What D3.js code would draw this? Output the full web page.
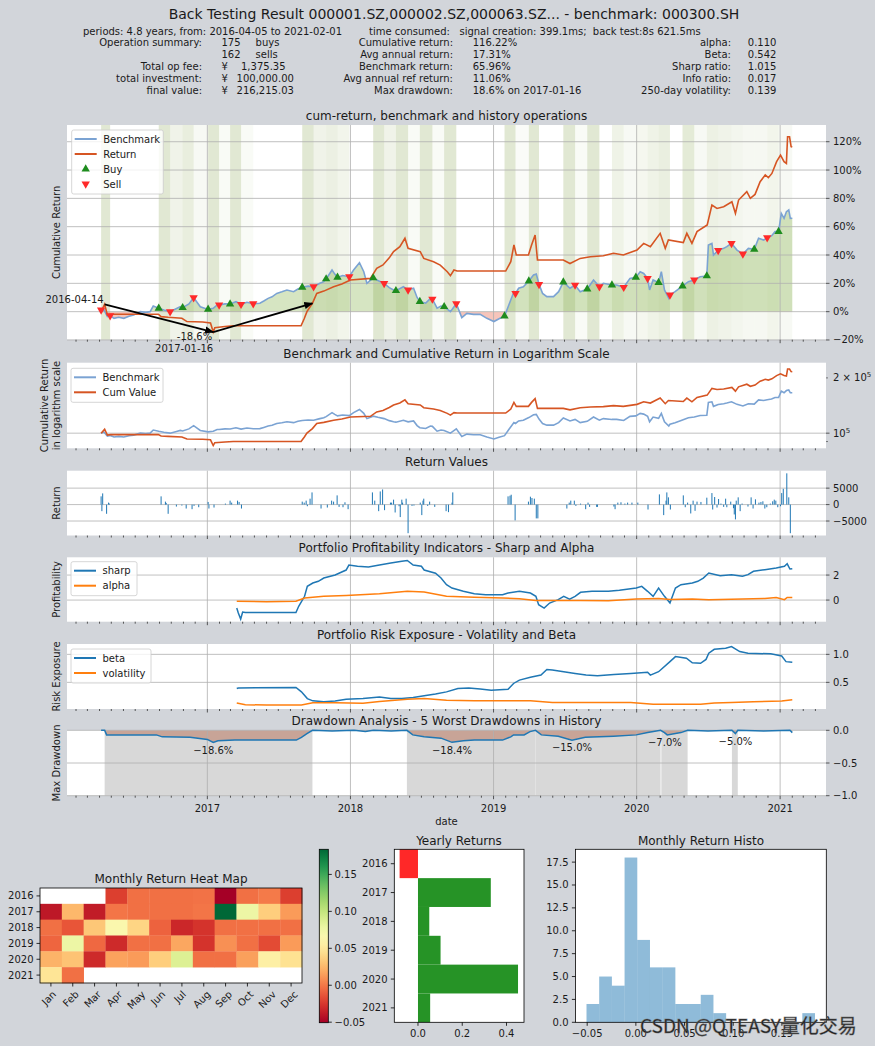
<!DOCTYPE html>
<html>
<head>
<meta charset="utf-8">
<title>Back Testing Result</title>
<script src="https://d3js.org/d3.v7.min.js"></script>
<style>
  body { margin: 0; background: #d2d5da; }
  svg { display: block; }
  text { font-family: "DejaVu Sans", sans-serif; fill: #1a1a1a; }
</style>
</head>
<body>
<div id="chart"></div>
<script>
// ---------- values ----------

// cumulative return of the benchmark and of the strategy, in %
const benchmark = [
  ['2016-04-05', 0.0], ['2016-04-12', 1.5], ['2016-04-21', -3.5], ['2016-04-28', -2.8], ['2016-05-08', -4.7],
  ['2016-05-20', -4.0], ['2016-06-02', -4.7], ['2016-06-15', -3.2], ['2016-06-27', -2.4], ['2016-07-14', 0.0],
  ['2016-07-28', -0.5], ['2016-08-08', 0.0], ['2016-08-16', 4.0], ['2016-08-30', 2.4], ['2016-09-12', 1.2],
  ['2016-09-28', 0.0], ['2016-10-12', 1.9], ['2016-10-24', 3.5], ['2016-10-30', 2.8], ['2016-11-15', 5.5],
  ['2016-11-27', 9.9], ['2016-12-14', 3.5], ['2017-01-03', 1.6], ['2017-01-16', 2.4], ['2017-01-26', 4.7],
  ['2017-01-31', 4.7], ['2017-02-15', 5.5], ['2017-02-28', 5.4], ['2017-03-15', 7.0], ['2017-03-28', 5.2],
  ['2017-04-12', 6.6], ['2017-04-28', 5.6], ['2017-05-15', 5.9], ['2017-05-25', 7.5], ['2017-06-05', 9.4],
  ['2017-06-15', 10.5], ['2017-06-27', 12.9], ['2017-07-10', 14.0], ['2017-07-23', 15.3], ['2017-08-09', 14.1],
  ['2017-08-20', 16.0], ['2017-08-31', 17.2], ['2017-09-15', 18.0], ['2017-09-29', 17.6], ['2017-10-15', 20.0],
  ['2017-10-25', 21.2], ['2017-10-31', 23.1], ['2017-11-15', 29.4], ['2017-11-22', 26.5], ['2017-11-29', 24.2],
  ['2017-12-12', 25.5], ['2017-12-29', 24.7], ['2018-01-09', 29.4], ['2018-01-24', 34.6], ['2018-02-04', 28.2],
  ['2018-02-12', 20.0], ['2018-02-28', 23.8], ['2018-03-12', 22.0], ['2018-03-28', 20.0], ['2018-04-10', 17.0],
  ['2018-04-21', 15.3], ['2018-04-27', 14.8], ['2018-05-16', 17.6], ['2018-05-28', 15.3], ['2018-06-11', 16.5],
  ['2018-06-20', 10.0], ['2018-06-27', 7.1], ['2018-07-12', 6.0], ['2018-07-24', 9.4], ['2018-07-29', 8.9],
  ['2018-08-10', 2.5], ['2018-08-20', 4.0], ['2018-08-28', 3.5], ['2018-09-13', 0.0], ['2018-09-28', 5.6],
  ['2018-10-12', -4.2], ['2018-10-25', -1.2], ['2018-11-11', -1.9], ['2018-11-28', -1.9], ['2018-12-15', -4.7],
  ['2019-01-02', -7.0], ['2019-01-15', -5.0], ['2019-01-29', -3.1], ['2019-02-09', 4.7], ['2019-02-22', 14.1],
  ['2019-02-26', 12.9], ['2019-03-06', 16.5], ['2019-03-18', 17.6], ['2019-04-01', 21.6], ['2019-04-13', 25.9],
  ['2019-04-20', 26.5], ['2019-04-27', 19.3], ['2019-05-06', 12.9], ['2019-05-17', 10.6], ['2019-06-03', 10.6],
  ['2019-06-16', 14.1], ['2019-06-28', 20.9], ['2019-07-15', 16.5], ['2019-07-28', 18.8], ['2019-08-10', 14.1],
  ['2019-08-28', 16.0], ['2019-09-13', 22.4], ['2019-09-28', 17.6], ['2019-10-08', 20.0], ['2019-10-30', 18.8],
  ['2019-11-11', 18.8], ['2019-11-29', 17.2], ['2019-12-15', 23.5], ['2019-12-30', 24.2], ['2020-01-10', 28.2],
  ['2020-01-19', 27.0], ['2020-01-29', 23.5], ['2020-02-03', 15.3], ['2020-02-12', 22.4], ['2020-02-26', 20.5],
  ['2020-03-04', 28.2], ['2020-03-12', 15.3], ['2020-03-23', 9.4], ['2020-03-26', 11.8], ['2020-04-08', 14.1],
  ['2020-04-27', 18.1], ['2020-05-12', 21.2], ['2020-05-27', 22.4], ['2020-06-11', 24.7], ['2020-06-28', 25.2],
  ['2020-07-02', 47.1], ['2020-07-11', 48.2], ['2020-07-15', 40.0], ['2020-07-27', 43.3], ['2020-08-10', 44.7],
  ['2020-08-18', 45.9], ['2020-08-30', 48.2], ['2020-09-13', 43.5], ['2020-09-28', 40.7], ['2020-10-12', 44.7],
  ['2020-10-27', 44.0], ['2020-11-07', 51.8], ['2020-11-20', 50.6], ['2020-11-29', 52.2], ['2020-12-10', 53.5],
  ['2020-12-19', 56.5], ['2020-12-28', 56.5], ['2021-01-04', 69.4], ['2021-01-11', 65.9], ['2021-01-17', 70.6],
  ['2021-01-23', 71.8], ['2021-01-27', 65.9], ['2021-02-01', 66.0]
];
const cumReturn = [
  ['2016-04-05', 0.0], ['2016-04-14', 5.2], ['2016-04-21', -2.4], ['2016-04-29', -1.8], ['2016-06-15', -1.8],
  ['2016-08-29', -1.8], ['2016-09-05', -3.5], ['2016-09-23', -4.0], ['2016-10-28', -4.7], ['2016-11-10', -7.0],
  ['2016-12-20', -7.3], ['2017-01-09', -8.0], ['2017-01-16', -14.4], ['2017-01-20', -11.3], ['2017-02-15', -10.5],
  ['2017-03-08', -10.0], ['2017-08-28', -10.0], ['2017-09-05', -5.0], ['2017-09-12', 0.0], ['2017-09-26', 5.9],
  ['2017-10-07', 12.9], ['2017-10-25', 14.5], ['2017-11-19', 17.6], ['2017-12-10', 19.5], ['2018-01-01', 22.4],
  ['2018-02-21', 23.5], ['2018-03-09', 30.6], ['2018-03-25', 33.0], ['2018-04-10', 38.0], ['2018-04-21', 42.4],
  ['2018-05-07', 45.9], ['2018-05-20', 51.8], ['2018-05-28', 44.7], ['2018-06-28', 42.4], ['2018-07-07', 37.6],
  ['2018-08-01', 35.3], ['2018-08-18', 32.9], ['2018-09-05', 28.2], ['2018-09-13', 25.4], ['2018-09-22', 29.4],
  ['2018-09-30', 28.7], ['2019-02-01', 28.7], ['2019-02-14', 35.3], ['2019-02-22', 47.1], ['2019-02-28', 40.0],
  ['2019-03-31', 40.0], ['2019-04-08', 47.1], ['2019-04-17', 54.1], ['2019-04-23', 36.5], ['2019-06-28', 36.5],
  ['2019-07-15', 34.0], ['2019-08-10', 37.6], ['2019-09-05', 38.8], ['2019-10-08', 39.5], ['2019-11-03', 41.2],
  ['2019-11-28', 40.0], ['2020-01-02', 43.5], ['2020-01-19', 48.2], ['2020-02-05', 45.9], ['2020-03-01', 55.3],
  ['2020-03-14', 44.7], ['2020-03-22', 50.6], ['2020-04-29', 48.8], ['2020-05-08', 55.3], ['2020-05-21', 48.2],
  ['2020-06-03', 56.5], ['2020-06-29', 61.2], ['2020-07-11', 75.3], ['2020-07-24', 72.9], ['2020-08-10', 74.1],
  ['2020-08-31', 77.6], ['2020-09-09', 69.4], ['2020-09-17', 78.8], ['2020-10-08', 84.7], ['2020-10-17', 80.0],
  ['2020-10-29', 82.8], ['2020-11-11', 91.8], ['2020-11-24', 96.5], ['2020-12-02', 94.6], ['2020-12-11', 97.6],
  ['2020-12-23', 105.9], ['2021-01-02', 110.6], ['2021-01-11', 105.9], ['2021-01-17', 104.7], ['2021-01-20', 123.5],
  ['2021-01-25', 123.5], ['2021-01-29', 116.5], ['2021-02-01', 116.2]
];

// trade markers, placed on the benchmark curve (%)
const buys = [
  ['2016-08-30', 2.4], ['2016-10-30', 2.8], ['2017-01-03', 1.6], ['2017-02-28', 5.4], ['2017-08-31', 17.2],
  ['2017-10-31', 23.1], ['2017-11-29', 24.2], ['2018-02-28', 23.8], ['2018-04-27', 14.8], ['2018-06-27', 7.1],
  ['2018-08-28', 3.5], ['2019-01-29', -3.1], ['2019-04-01', 21.6], ['2019-06-28', 20.9], ['2019-08-28', 16.0],
  ['2019-10-30', 18.8], ['2019-12-30', 24.2], ['2020-02-26', 20.5], ['2020-04-27', 18.1], ['2020-06-28', 25.2],
  ['2020-10-27', 44.0], ['2020-12-28', 56.5]
];
const sells = [
  ['2016-04-05', 1.2], ['2016-04-28', -2.8], ['2016-09-28', 0.0], ['2016-11-27', 9.9], ['2017-01-31', 4.7],
  ['2017-03-28', 5.2], ['2017-04-28', 5.6], ['2017-09-29', 17.6], ['2017-12-29', 24.7], ['2018-03-28', 20.0],
  ['2018-05-28', 15.3], ['2018-07-29', 8.9], ['2018-09-28', 5.6], ['2019-02-26', 12.9], ['2019-04-27', 19.3],
  ['2019-07-28', 18.8], ['2019-09-28', 17.6], ['2019-11-29', 17.2], ['2020-01-29', 23.5], ['2020-03-26', 11.8],
  ['2020-05-27', 22.4], ['2020-07-27', 43.3], ['2020-08-30', 48.2], ['2020-09-28', 40.7], ['2020-11-29', 52.2]
];

// holding periods: start, end, shade strength
const holdBands = [
  ['2016-04-05', '2016-04-28', 0.20], ['2016-08-30', '2016-09-28', 0.20], ['2016-09-28', '2016-10-30', 0.10],
  ['2016-10-30', '2016-11-27', 0.15], ['2016-11-27', '2017-01-03', 0.05], ['2017-01-03', '2017-01-31', 0.20],
  ['2017-01-31', '2017-02-28', 0.04], ['2017-02-28', '2017-03-28', 0.20], ['2017-03-28', '2017-04-28', 0.04],
  ['2017-08-31', '2017-09-29', 0.20], ['2017-09-29', '2017-10-31', 0.10], ['2017-10-31', '2017-11-29', 0.13],
  ['2017-11-29', '2017-12-29', 0.09], ['2018-02-28', '2018-03-28', 0.20], ['2018-03-28', '2018-04-27', 0.10],
  ['2018-04-27', '2018-05-28', 0.20], ['2018-05-28', '2018-06-27', 0.04], ['2018-06-27', '2018-07-29', 0.20],
  ['2018-07-29', '2018-08-28', 0.04], ['2018-08-28', '2018-09-28', 0.20], ['2019-01-29', '2019-02-26', 0.20],
  ['2019-02-26', '2019-04-01', 0.03], ['2019-04-01', '2019-04-27', 0.20], ['2019-06-28', '2019-07-28', 0.20],
  ['2019-07-28', '2019-08-28', 0.04], ['2019-08-28', '2019-09-28', 0.20], ['2019-10-30', '2019-11-29', 0.11],
  ['2019-11-29', '2019-12-30', 0.05], ['2019-12-30', '2020-01-29', 0.07], ['2020-01-29', '2020-02-26', 0.11],
  ['2020-02-26', '2020-03-26', 0.14], ['2020-04-27', '2020-05-27', 0.18], ['2020-05-27', '2020-06-28', 0.05],
  ['2020-06-28', '2020-07-27', 0.12], ['2020-07-27', '2020-08-30', 0.10], ['2020-08-30', '2020-09-28', 0.08],
  ['2020-09-28', '2020-10-27', 0.06], ['2020-10-27', '2020-11-29', 0.06], ['2020-11-29', '2020-12-28', 0.09],
  ['2020-12-28', '2021-02-01', 0.05]
];

// max drawdown: peak, valley, recovery (% of cumulative return)
const maxDrawdownPts = [['2016-04-14', 5.2], ['2017-01-16', -14.4], ['2017-09-26', 5.9]];

// daily change of portfolio value (yuan)
const dailyGain = [
  ['2016-04-05', 2500], ['2016-04-07', -2000], ['2016-04-09', 3400], ['2016-04-19', -2800], ['2016-04-24', 600],
  ['2016-04-26', 300], ['2016-09-05', 2500], ['2016-09-16', 900], ['2016-09-18', 500], ['2016-09-23', -2800],
  ['2016-10-14', -600], ['2016-10-28', -300], ['2016-11-08', -1200], ['2016-11-23', -1400], ['2016-11-28', -400],
  ['2016-12-10', -800], ['2017-01-03', 800], ['2017-01-05', -1200], ['2017-01-18', -900], ['2017-02-16', 300],
  ['2017-02-28', 1200], ['2017-03-04', 600], ['2017-03-19', 1200], ['2017-03-23', 800], ['2017-03-29', -1200],
  ['2017-08-31', 900], ['2017-09-05', 600], ['2017-09-10', 1200], ['2017-09-13', -500], ['2017-09-20', 1800],
  ['2017-09-25', 3700], ['2017-10-18', -1200], ['2017-11-03', -900], ['2017-11-14', 1200], ['2017-11-19', 900],
  ['2017-11-28', 2800], ['2017-12-03', -700], ['2017-12-13', -800], ['2017-12-18', 700], ['2017-12-26', -1400],
  ['2018-02-26', 3700], ['2018-03-04', 1200], ['2018-03-14', -2000], ['2018-03-18', 4000], ['2018-03-24', 4600],
  ['2018-03-29', -1700], ['2018-04-13', 600], ['2018-04-16', 600], ['2018-04-21', 1500], ['2018-04-25', -2400],
  ['2018-05-05', -500], ['2018-05-08', -3800], ['2018-05-12', 1500], ['2018-05-14', 600], ['2018-05-23', 1800],
  ['2018-05-28', -8700], ['2018-06-07', -400], ['2018-06-12', -300], ['2018-06-28', 600], ['2018-07-02', -3200],
  ['2018-07-05', 1200], ['2018-07-07', 1800], ['2018-07-17', -400], ['2018-07-22', 900], ['2018-08-04', -700],
  ['2018-09-02', -2000], ['2018-09-08', -2300], ['2018-09-17', 600], ['2018-09-19', 3700], ['2019-02-07', 2500],
  ['2019-02-12', 2700], ['2019-02-15', 3000], ['2019-02-25', -4800], ['2019-03-31', 900], ['2019-04-05', 2400],
  ['2019-04-09', 2000], ['2019-04-15', 1800], ['2019-04-20', -4200], ['2019-04-24', -4200], ['2019-07-07', -1200],
  ['2019-07-13', 600], ['2019-07-17', 1200], ['2019-07-26', 1200], ['2019-07-30', -400], ['2019-08-11', 300],
  ['2019-08-24', -1400], ['2019-08-30', 600], ['2019-09-03', -700], ['2019-09-21', -700], ['2019-09-23', -700],
  ['2019-11-04', -600], ['2019-11-07', -1400], ['2019-11-14', 600], ['2019-11-22', 700], ['2019-12-02', 300],
  ['2019-12-09', 600], ['2019-12-20', 600], ['2020-01-04', 600], ['2020-01-30', -1500], ['2020-02-28', 3100],
  ['2020-03-10', -3200], ['2020-03-16', 1200], ['2020-03-18', 3700], ['2020-03-22', 2200], ['2020-03-27', -1500],
  ['2020-04-29', 2800], ['2020-05-04', -800], ['2020-05-10', 600], ['2020-05-18', -2700], ['2020-05-24', 1200],
  ['2020-05-29', -1900], ['2020-06-03', 900], ['2020-06-13', 800], ['2020-06-28', 2100], ['2020-07-11', 3500],
  ['2020-07-13', -1500], ['2020-07-18', 2300], ['2020-07-24', -900], ['2020-07-28', 1700], ['2020-08-03', 300],
  ['2020-08-10', -700], ['2020-08-15', 1800], ['2020-08-18', -800], ['2020-08-28', 900], ['2020-09-04', -1100],
  ['2020-09-06', -3000], ['2020-09-09', -4500], ['2020-09-11', 1200], ['2020-09-16', 2200], ['2020-09-21', -2000],
  ['2020-09-26', 300], ['2020-10-11', -600], ['2020-10-19', 2200], ['2020-10-24', -1200], ['2020-10-30', 1600],
  ['2020-11-08', 600], ['2020-11-13', 800], ['2020-11-18', 1000], ['2020-11-23', -1200], ['2020-11-28', -800],
  ['2020-12-07', 300], ['2020-12-13', 1000], ['2020-12-17', 1500], ['2020-12-21', 1200], ['2020-12-26', -800],
  ['2021-01-02', -500], ['2021-01-05', 3500], ['2021-01-09', 4800], ['2021-01-18', 9500], ['2021-01-23', 2200],
  ['2021-01-27', -8700]
];

const sharp = [
  ['2017-03-17', -0.64], ['2017-03-21', -1.04], ['2017-03-27', -1.52], ['2017-04-01', -0.96], ['2017-04-08', -1.0],
  ['2017-08-15', -1.0], ['2017-08-22', -0.5], ['2017-09-06', 0.3], ['2017-09-13', 1.1], ['2017-09-27', 1.36],
  ['2017-10-11', 1.5], ['2017-10-25', 1.76], ['2017-11-23', 2.0], ['2017-12-07', 2.2], ['2017-12-21', 2.4],
  ['2017-12-28', 2.8], ['2018-01-19', 2.7], ['2018-02-16', 2.65], ['2018-03-16', 2.8], ['2018-04-14', 2.96],
  ['2018-05-12', 3.1], ['2018-05-26', 3.17], ['2018-06-10', 2.8], ['2018-07-01', 2.7], ['2018-07-08', 2.4],
  ['2018-08-06', 2.15], ['2018-08-20', 1.76], ['2018-09-03', 1.23], ['2018-09-17', 0.96], ['2018-10-16', 0.7],
  ['2018-11-13', 0.5], ['2018-12-12', 0.43], ['2019-01-24', 0.43], ['2019-02-07', 0.56], ['2019-03-08', 0.7],
  ['2019-04-05', 0.56], ['2019-04-19', 0.3], ['2019-04-26', -0.37], ['2019-05-10', -0.64], ['2019-05-24', -0.24],
  ['2019-06-15', 0.03], ['2019-06-29', 0.3], ['2019-07-14', 0.08], ['2019-07-28', 0.3], ['2019-08-11', 0.62],
  ['2019-09-09', 0.7], ['2019-10-21', 0.7], ['2019-11-18', 0.78], ['2019-12-31', 0.96], ['2020-01-14', 1.1],
  ['2020-01-29', 0.7], ['2020-02-12', 0.3], ['2020-02-26', 0.96], ['2020-03-12', 0.3], ['2020-03-26', -0.24],
  ['2020-04-09', 0.96], ['2020-04-23', 1.23], ['2020-05-22', 1.36], ['2020-06-05', 1.5], ['2020-06-19', 1.76],
  ['2020-07-03', 2.16], ['2020-08-01', 1.95], ['2020-08-30', 2.03], ['2020-09-27', 1.9], ['2020-10-11', 2.03],
  ['2020-10-25', 2.3], ['2020-11-23', 2.43], ['2020-12-22', 2.56], ['2021-01-12', 2.7], ['2021-01-19', 2.9],
  ['2021-01-26', 2.48], ['2021-02-01', 2.5]
];
const alpha = [
  ['2017-03-17', -0.1], ['2017-06-01', -0.13], ['2017-08-15', -0.1], ['2017-09-06', 0.16], ['2017-10-25', 0.3],
  ['2017-12-21', 0.37], ['2018-03-16', 0.5], ['2018-05-26', 0.7], ['2018-07-08', 0.64], ['2018-09-03', 0.3],
  ['2018-11-13', 0.22], ['2019-01-24', 0.16], ['2019-03-08', 0.11], ['2019-04-19', -0.03], ['2019-06-15', -0.03],
  ['2019-08-11', -0.03], ['2019-10-21', -0.05], ['2019-12-31', 0.08], ['2020-02-26', 0.13], ['2020-03-26', 0.05],
  ['2020-05-22', 0.08], ['2020-07-03', 0.03], ['2020-09-27', 0.08], ['2020-11-23', 0.13], ['2020-12-22', 0.21],
  ['2021-01-12', 0.03], ['2021-01-19', 0.21], ['2021-02-01', 0.21]
];
const beta = [
  ['2017-03-17', 0.39], ['2017-03-21', 0.40], ['2017-08-15', 0.41], ['2017-08-29', 0.33], ['2017-09-13', 0.21],
  ['2017-09-27', 0.17], ['2017-10-25', 0.155], ['2017-11-23', 0.165], ['2017-12-21', 0.2], ['2018-02-02', 0.21],
  ['2018-03-16', 0.24], ['2018-04-14', 0.21], ['2018-05-12', 0.21], ['2018-06-10', 0.23], ['2018-07-08', 0.26],
  ['2018-08-06', 0.29], ['2018-09-03', 0.33], ['2018-10-02', 0.39], ['2018-10-30', 0.40], ['2018-11-28', 0.38],
  ['2018-12-26', 0.36], ['2019-02-07', 0.375], ['2019-02-21', 0.48], ['2019-03-08', 0.54], ['2019-04-05', 0.59],
  ['2019-05-02', 0.63], ['2019-05-17', 0.73], ['2019-05-31', 0.72], ['2019-06-29', 0.69], ['2019-07-28', 0.66],
  ['2019-08-25', 0.63], ['2019-09-23', 0.62], ['2019-11-04', 0.64], ['2019-12-17', 0.66], ['2020-01-29', 0.68],
  ['2020-02-05', 0.63], ['2020-02-26', 0.69], ['2020-03-26', 0.87], ['2020-04-09', 0.96], ['2020-05-07', 0.93],
  ['2020-05-22', 0.85], ['2020-06-12', 0.84], ['2020-06-26', 0.91], ['2020-07-03', 1.02], ['2020-07-17', 1.09],
  ['2020-08-15', 1.11], ['2020-08-30', 1.14], ['2020-09-20', 1.05], ['2020-10-11', 1.02], ['2020-12-08', 1.01],
  ['2021-01-05', 0.97], ['2021-01-16', 0.87], ['2021-02-01', 0.86]
];
const volatility = [
  ['2017-03-17', 0.13], ['2017-04-08', 0.10], ['2017-06-01', 0.095], ['2017-08-29', 0.095], ['2017-09-27', 0.137],
  ['2017-11-23', 0.137], ['2018-02-02', 0.125], ['2018-03-16', 0.16], ['2018-05-26', 0.20], ['2018-07-08', 0.21],
  ['2018-09-03', 0.18], ['2018-11-13', 0.17], ['2019-01-24', 0.17], ['2019-04-05', 0.17], ['2019-05-31', 0.14],
  ['2019-09-23', 0.14], ['2019-12-17', 0.14], ['2020-02-12', 0.11], ['2020-04-23', 0.107], ['2020-06-12', 0.11],
  ['2020-07-17', 0.13], ['2020-08-30', 0.14], ['2020-10-25', 0.155], ['2021-01-05', 0.167], ['2021-02-01', 0.19]
];

const drawdown = [
  ['2016-04-05', 0.0], ['2016-04-14', 0.0], ['2016-04-19', -0.07], ['2016-08-24', -0.07], ['2016-09-08', -0.10],
  ['2016-11-18', -0.107], ['2017-01-01', -0.14], ['2017-01-16', -0.186], ['2017-01-28', -0.16], ['2017-03-12', -0.15],
  ['2017-08-16', -0.15], ['2017-08-29', -0.107], ['2017-09-12', -0.05], ['2017-09-26', 0.0], ['2017-11-15', -0.01],
  ['2018-01-10', 0.0], ['2018-02-08', -0.02], ['2018-03-01', 0.0], ['2018-04-15', -0.01], ['2018-05-25', 0.0],
  ['2018-06-09', -0.07], ['2018-07-08', -0.10], ['2018-08-20', -0.12], ['2018-09-17', -0.184], ['2018-10-16', -0.16],
  ['2018-11-13', -0.15], ['2019-01-24', -0.15], ['2019-02-14', -0.10], ['2019-02-21', -0.07], ['2019-03-20', -0.07],
  ['2019-04-04', -0.02], ['2019-04-18', 0.0], ['2019-05-03', -0.07], ['2019-06-15', -0.09], ['2019-07-20', -0.15],
  ['2019-08-23', -0.107], ['2019-11-03', -0.09], ['2019-12-31', -0.07], ['2020-01-29', -0.035], ['2020-03-02', 0.0],
  ['2020-03-12', -0.035], ['2020-03-19', -0.07], ['2020-04-23', -0.035], ['2020-05-10', 0.0], ['2020-07-01', -0.01],
  ['2020-08-31', 0.0], ['2020-09-09', -0.05], ['2020-09-15', 0.0], ['2020-11-20', -0.01], ['2021-01-26', 0.0],
  ['2021-02-01', -0.035]
];
// five worst drawdowns: start, end, valley date, depth
const worstDrawdowns = [
  ['2016-04-14', '2017-09-26', '2017-01-16', -0.186],
  ['2018-05-25', '2019-04-18', '2018-09-17', -0.184],
  ['2019-04-18', '2020-03-02', '2019-07-20', -0.150],
  ['2020-03-04', '2020-05-10', '2020-03-13', -0.070],
  ['2020-08-31', '2020-09-15', '2020-09-09', -0.050]
];

const heatYears = ['2016', '2017', '2018', '2019', '2020', '2021'];
const monthNames = ['Jan', 'Feb', 'Mar', 'Apr', 'May', 'Jun', 'Jul', 'Aug', 'Sep', 'Oct', 'Nov', 'Dec'];
const monthlyReturns = [
  [null, null, null, -0.022, -0.003, -0.003, -0.003, -0.002, -0.0507, -0.003, 0.001, -0.022],
  [-0.039, 0.025, -0.037, -0.001, -0.003, -0.003, -0.003, -0.001, 0.184, 0.077, 0.035, 0.013],
  [-0.003, -0.013, 0.032, 0.065, 0.039, -0.008, -0.032, -0.027, -0.003, -0.003, -0.003, -0.003],
  [-0.007, 0.077, -0.006, -0.031, -0.003, -0.003, 0.018, -0.027, 0.009, -0.003, -0.017, 0.013],
  [0.023, 0.030, -0.031, 0.016, 0.013, 0.035, 0.087, -0.003, -0.003, 0.015, 0.056, 0.046],
  [0.048, -0.003, null, null, null, null, null, null, null, null, null, null]
];
const yearlyReturns = [-0.083, 0.329, 0.051, 0.102, 0.452, 0.055];
const histCounts = [2, 5, 4, 18, 9, 6, 6, 2, 2, 3, 1, 0, 0, 0, 0, 0, 0, 1];
const histRange = [-0.0507, 0.184];

// header text
const opLabels = ['Operation summary:', '', 'Total op fee:', 'total investment:', 'final value:'];
const opValues = [['175', 'buys'], ['162', 'sells'], ['¥', '1,375.35'], ['¥', '100,000.00'], ['¥', '216,215.03']];
const retLabels = ['Cumulative return:', 'Avg annual return:', 'Benchmark return:', 'Avg annual ref return:', 'Max drawdown:'];
const retValues = ['116.22%', '17.31%', '65.96%', '11.06%', '18.6% on 2017-01-16'];
const riskLabels = ['alpha:', 'Beta:', 'Sharp ratio:', 'Info ratio:', '250-day volatility:'];
const riskValues = ['0.110', '0.542', '1.015', '0.017', '0.139'];

// ---------- drawing ----------
const parse = d3.timeParse('%Y-%m-%d');
const pts = arr => arr.map(d => ({ date: parse(d[0]), v: d[1] }));
const minus = s => s.replace('-', '\u2212');
const keepSpaces = s => s.replace(/ /g, '\u00a0');

const svg = d3.select('#chart').append('svg').attr('width', 875).attr('height', 1046);
svg.append('rect').attr('width', 875).attr('height', 1046).attr('fill', '#d2d5da');
const defs = svg.append('defs');

const X0 = 67, X1 = 826;
const x = d3.scaleTime().domain([parse('2016-01-09'), parse('2021-04-28')]).range([X0, X1]);
const years = d3.timeYear.range(parse('2017-01-01'), parse('2021-01-02'));
const months = d3.timeMonth.range(parse('2016-02-01'), parse('2021-04-02'));

// header
const hdr = svg.append('g').attr('font-size', 10);
hdr.append('text').attr('x', 454).attr('y', 19).attr('text-anchor', 'middle').attr('font-size', 14)
  .text('Back Testing Result 000001.SZ,000002.SZ,000063.SZ... - benchmark: 000300.SH');
hdr.append('text').attr('x', 83).attr('y', 34.5).text('periods: 4.8 years, from: 2016-04-05 to 2021-02-01');
hdr.append('text').attr('x', 369).attr('y', 34.5)
  .text(keepSpaces('time consumed:   signal creation: 399.1ms;  back test:8s 621.5ms'));
const rowY = i => 46.4 + i * 11.9;
const opValueX = [255.6, 255.6, 241, 236.6, 236.6];
opLabels.forEach((t, i) => {
  hdr.append('text').attr('x', 202).attr('y', rowY(i)).attr('text-anchor', 'end').text(t);
  hdr.append('text').attr('x', 221.5).attr('y', rowY(i)).text(opValues[i][0]);
  hdr.append('text').attr('x', opValueX[i]).attr('y', rowY(i)).text(opValues[i][1]);
  hdr.append('text').attr('x', 453).attr('y', rowY(i)).attr('text-anchor', 'end').text(retLabels[i]);
  hdr.append('text').attr('x', 472.7).attr('y', rowY(i)).text(retValues[i]);
  hdr.append('text').attr('x', 731).attr('y', rowY(i)).attr('text-anchor', 'end').text(riskLabels[i]);
  hdr.append('text').attr('x', 747.8).attr('y', rowY(i)).text(riskValues[i]);
});

function panel(top, bottom, y, ticks, fmt) {
  const g = svg.append('g');
  g.append('rect').attr('x', X0).attr('y', top).attr('width', X1 - X0).attr('height', bottom - top).attr('fill', '#fff');
  const under = g.append('g');
  const grid = g.append('g').attr('stroke', '#b0b0b0').attr('stroke-width', 0.8);
  grid.selectAll(null).data(years).join('line')
    .attr('x1', d => x(d)).attr('x2', d => x(d)).attr('y1', top).attr('y2', bottom);
  grid.selectAll(null).data(ticks).join('line')
    .attr('x1', X0).attr('x2', X1).attr('y1', d => y(d)).attr('y2', d => y(d));
  const over = g.append('g');
  const axis = g.append('g');
  axis.selectAll(null).data(months).join('line')
    .attr('x1', d => x(d)).attr('x2', d => x(d)).attr('y1', bottom)
    .attr('y2', d => bottom + (d.getMonth() === 0 ? 3.5 : 2))
    .attr('stroke', '#333').attr('stroke-width', 0.8);
  axis.selectAll(null).data(ticks).join('line')
    .attr('x1', X1).attr('x2', X1 + 3.5).attr('y1', d => y(d)).attr('y2', d => y(d))
    .attr('stroke', '#333').attr('stroke-width', 0.8);
  if (fmt) {
    axis.selectAll(null).data(ticks).join('text')
      .attr('x', X1 + 7).attr('y', d => y(d)).attr('dy', '0.35em').attr('font-size', 10).text(fmt);
  }
  return { g, under, over, axis, top, bottom };
}

function title(p, t) {
  svg.append('text').attr('x', (X0 + X1) / 2).attr('y', p.top - 5).attr('text-anchor', 'middle')
    .attr('font-size', 12).text(t);
}

function ylabel(p, lines) {
  const cy = (p.top + p.bottom) / 2;
  lines.forEach((t, i) => {
    svg.append('text').attr('transform', `translate(${60 - (lines.length - 1 - i) * 12},${cy}) rotate(-90)`)
      .attr('text-anchor', 'middle').attr('font-size', 10).text(t);
  });
}

function legend(x0, y0, w, items) {
  const g = svg.append('g');
  g.append('rect').attr('x', x0).attr('y', y0).attr('width', w).attr('height', items.length * 15 + 4)
    .attr('rx', 2).attr('fill', '#fff').attr('fill-opacity', 0.8).attr('stroke', '#ccc').attr('stroke-width', 0.8);
  items.forEach((it, i) => {
    const cy = y0 + 9 + i * 15;
    if (it.type === 'line') {
      g.append('line').attr('x1', x0 + 3).attr('x2', x0 + 25).attr('y1', cy).attr('y2', cy)
        .attr('stroke', it.color).attr('stroke-width', 2);
    } else {
      g.append('path').attr('d', d3.symbol(d3.symbolTriangle, 30)())
        .attr('transform', `translate(${x0 + 14},${cy})${it.type === 'down' ? ' rotate(180)' : ''}`)
        .attr('fill', it.color);
    }
    g.append('text').attr('x', x0 + 31.5).attr('y', cy).attr('dy', '0.35em').attr('font-size', 10).text(it.label);
  });
}

const BENCH = '#7ba3d3', RET = '#d65523';

// ---- panel 1: cumulative return ----
const y1 = d3.scaleLinear().domain([-19.8, 131.8]).range([339.7, 125]);
const p1 = panel(125, 339.7, y1, [-20, 0, 20, 40, 60, 80, 100, 120], d => minus(`${d}%`));
title(p1, 'cum-return, benchmark and history operations');
ylabel(p1, ['Cumulative Return']);

p1.under.selectAll(null).data(holdBands).join('rect')
  .attr('x', d => x(parse(d[0]))).attr('width', d => x(parse(d[1])) - x(parse(d[0])))
  .attr('y', p1.top).attr('height', p1.bottom - p1.top)
  .attr('fill', '#6b8e23').attr('fill-opacity', d => d[2]);

defs.append('clipPath').attr('id', 'clipPos').append('rect')
  .attr('x', X0).attr('width', X1 - X0).attr('y', p1.top).attr('height', y1(0) - p1.top);
defs.append('clipPath').attr('id', 'clipNeg').append('rect')
  .attr('x', X0).attr('width', X1 - X0).attr('y', y1(0)).attr('height', p1.bottom - y1(0));
const bm = pts(benchmark), cr = pts(cumReturn);
const area1 = d3.area().x(d => x(d.date)).y0(y1(0)).y1(d => y1(d.v));
p1.under.append('path').datum(bm).attr('d', area1).attr('fill', 'rgb(107,160,35)').attr('fill-opacity', 0.28)
  .attr('clip-path', 'url(#clipPos)');
p1.under.append('path').datum(bm).attr('d', area1).attr('fill', 'rgb(230,90,60)').attr('fill-opacity', 0.35)
  .attr('clip-path', 'url(#clipNeg)');

const line1 = d3.line().x(d => x(d.date)).y(d => y1(d.v));
p1.over.append('path').datum(bm).attr('d', line1).attr('fill', 'none').attr('stroke', BENCH).attr('stroke-width', 1.6);
p1.over.append('path').datum(cr).attr('d', line1).attr('fill', 'none').attr('stroke', RET).attr('stroke-width', 1.6);

p1.over.selectAll(null).data(buys).join('path')
  .attr('d', d3.symbol(d3.symbolTriangle, 30)())
  .attr('transform', d => `translate(${x(parse(d[0]))},${y1(d[1])})`)
  .attr('fill', '#1e8c1e');
p1.over.selectAll(null).data(sells).join('path')
  .attr('d', d3.symbol(d3.symbolTriangle, 30)())
  .attr('transform', d => `translate(${x(parse(d[0]))},${y1(d[1])}) rotate(180)`)
  .attr('fill', '#ff2a2a');

// max drawdown arrows
defs.append('marker').attr('id', 'arrow').attr('viewBox', '0 0 10 10').attr('refX', 9).attr('refY', 5)
  .attr('markerWidth', 5).attr('markerHeight', 5).attr('orient', 'auto')
  .append('path').attr('d', 'M0,1 L10,5 L0,9 z').attr('fill', '#000');
const ddP = pts(maxDrawdownPts);
[[ddP[0], ddP[1]], [ddP[1], ddP[2]]].forEach(([a, b]) => {
  svg.append('line').attr('x1', x(a.date)).attr('y1', y1(a.v)).attr('x2', x(b.date)).attr('y2', y1(b.v))
    .attr('stroke', '#000').attr('stroke-width', 1.8).attr('marker-end', 'url(#arrow)');
});
svg.append('text').attr('x', x(ddP[0].date) - 1).attr('y', y1(ddP[0].v) - 1.5).attr('text-anchor', 'end')
  .attr('font-size', 10).text(maxDrawdownPts[0][0]);
svg.append('text').attr('x', x(ddP[1].date) - 1).attr('y', y1(ddP[1].v) + 7.5).attr('text-anchor', 'end')
  .attr('font-size', 10).text('-18.6%');
svg.append('text').attr('x', x(ddP[1].date)).attr('y', y1(ddP[1].v) + 19.5).attr('text-anchor', 'end')
  .attr('font-size', 10).text(maxDrawdownPts[1][0]);

legend(71.7, 130, 91.6, [
  { label: 'Benchmark', color: BENCH, type: 'line' },
  { label: 'Return', color: RET, type: 'line' },
  { label: 'Buy', color: '#1e8c1e', type: 'up' },
  { label: 'Sell', color: '#ff2a2a', type: 'down' }
]);

// ---- panel 2: log scale ----
const y2 = d3.scaleLog().domain([82700, 242000]).range([448.3, 362.7]);
const p2 = panel(362.7, 448.3, y2, [1e5], null);
title(p2, 'Benchmark and Cumulative Return in Logarithm Scale');
ylabel(p2, ['Cumulative Return', 'in logarithm scale']);
const line2 = d3.line().x(d => x(d.date)).y(d => y2(1e5 * (1 + d.v / 100)));
p2.over.append('path').datum(bm).attr('d', line2).attr('fill', 'none').attr('stroke', BENCH).attr('stroke-width', 1.6);
p2.over.append('path').datum(cr).attr('d', line2).attr('fill', 'none').attr('stroke', RET).attr('stroke-width', 1.6);
p2.axis.selectAll(null).data([2e5, 9e4]).join('line')
  .attr('x1', X1).attr('x2', X1 + 2).attr('y1', d => y2(d)).attr('y2', d => y2(d))
  .attr('stroke', '#333').attr('stroke-width', 0.6);
const lb1 = p2.axis.append('text').attr('x', X1 + 7).attr('y', y2(1e5)).attr('dy', '0.35em').attr('font-size', 10);
lb1.append('tspan').text('10');
lb1.append('tspan').attr('dy', -4).attr('font-size', 7).text('5');
const lb2 = p2.axis.append('text').attr('x', X1 + 7).attr('y', y2(2e5)).attr('dy', '0.35em').attr('font-size', 10);
lb2.append('tspan').text('2\u00a0\u00d7\u00a010');
lb2.append('tspan').attr('dy', -4).attr('font-size', 7).text('5');
legend(71, 368.3, 92, [
  { label: 'Benchmark', color: BENCH, type: 'line' },
  { label: 'Cum Value', color: RET, type: 'line' }
]);

// ---- panel 3: daily value change ----
const y3 = d3.scaleLinear().domain([-9400, 10300]).range([535.5, 470.7]);
const p3 = panel(470.7, 535.5, y3, [-5000, 0, 5000], d => minus(String(d)));
title(p3, 'Return Values');
ylabel(p3, ['Return']);
p3.over.selectAll(null).data(dailyGain).join('rect')
  .attr('x', d => x(parse(d[0])) - 0.5).attr('width', 1)
  .attr('y', d => Math.min(y3(0), y3(d[1]))).attr('height', d => Math.abs(y3(d[1]) - y3(0)))
  .attr('fill', '#1f77b4');

// ---- panel 4: sharp and alpha ----
const y4 = d3.scaleLinear().domain([-1.73, 3.42]).range([621.7, 557.3]);
const p4 = panel(557.3, 621.7, y4, [0, 2], d => String(d));
title(p4, 'Portfolio Profitability Indicators - Sharp and Alpha');
ylabel(p4, ['Profitability']);
const line4 = d3.line().x(d => x(d.date)).y(d => y4(d.v));
p4.over.append('path').datum(pts(sharp)).attr('d', line4).attr('fill', 'none').attr('stroke', '#1f77b4').attr('stroke-width', 1.5);
p4.over.append('path').datum(pts(alpha)).attr('d', line4).attr('fill', 'none').attr('stroke', '#ff7f0e').attr('stroke-width', 1.5);
legend(71, 561.7, 66, [
  { label: 'sharp', color: '#1f77b4', type: 'line' },
  { label: 'alpha', color: '#ff7f0e', type: 'line' }
]);

// ---- panel 5: beta and volatility ----
const y5 = d3.scaleLinear().domain([0.024, 1.185]).range([709, 644]);
const p5 = panel(644, 709, y5, [0.5, 1.0], d => d.toFixed(1));
title(p5, 'Portfolio Risk Exposure - Volatility and Beta');
ylabel(p5, ['Risk Exposure']);
const line5 = d3.line().x(d => x(d.date)).y(d => y5(d.v));
p5.over.append('path').datum(pts(beta)).attr('d', line5).attr('fill', 'none').attr('stroke', '#1f77b4').attr('stroke-width', 1.5);
p5.over.append('path').datum(pts(volatility)).attr('d', line5).attr('fill', 'none').attr('stroke', '#ff7f0e').attr('stroke-width', 1.5);
legend(71, 649, 80, [
  { label: 'beta', color: '#1f77b4', type: 'line' },
  { label: 'volatility', color: '#ff7f0e', type: 'line' }
]);

// ---- panel 6: drawdown ----
const y6 = d3.scaleLinear().domain([-1, 0]).range([795.7, 730.3]);
const p6 = panel(730.3, 795.7, y6, [-1.0, -0.5, 0.0], d => minus(d.toFixed(1)));
title(p6, 'Drawdown Analysis - 5 Worst Drawdowns in History');
ylabel(p6, ['Max Drawdown']);
p6.under.selectAll(null).data(worstDrawdowns).join('rect')
  .attr('x', d => x(parse(d[0]))).attr('width', d => x(parse(d[1])) - x(parse(d[0])))
  .attr('y', p6.top).attr('height', p6.bottom - p6.top).attr('fill', '#d8d8d8');
const dd = pts(drawdown);
p6.under.append('path').datum(dd)
  .attr('d', d3.area().x(d => x(d.date)).y0(y6(0)).y1(d => y6(d.v)))
  .attr('fill', '#b5654a').attr('fill-opacity', 0.45);
p6.over.append('path').datum(dd).attr('d', d3.line().x(d => x(d.date)).y(d => y6(d.v)))
  .attr('fill', 'none').attr('stroke', '#1f77b4').attr('stroke-width', 1.5);
p6.over.selectAll(null).data(worstDrawdowns).join('text')
  .attr('x', d => x(parse(d[2]))).attr('y', d => y6(d[3] - 0.12)).attr('dy', '0.35em')
  .attr('text-anchor', 'middle').attr('font-size', 10)
  .text(d => `\u2212${(Math.abs(d[3]) * 100).toFixed(1)}%`);
svg.selectAll(null).data(years).join('text')
  .attr('x', d => x(d)).attr('y', 812).attr('text-anchor', 'middle').attr('font-size', 10)
  .text(d => d.getFullYear());
svg.append('text').attr('x', (X0 + X1) / 2).attr('y', 825).attr('text-anchor', 'middle').attr('font-size', 10).text('date');

// ---- monthly heat map ----
const hx = d3.scaleBand().domain(monthNames).range([40, 302]);
const hy = d3.scaleBand().domain(heatYears).range([888, 983]);
const allMonthly = monthlyReturns.flat().filter(v => v !== null);
const heatColor = d3.scaleSequential(d3.interpolateRdYlGn).domain(d3.extent(allMonthly));
svg.append('rect').attr('x', 40).attr('y', 888).attr('width', 262).attr('height', 95).attr('fill', '#fff');
const cells = [];
monthlyReturns.forEach((row, i) => row.forEach((v, j) => { if (v !== null) cells.push({ yr: heatYears[i], m: monthNames[j], v }); }));
svg.selectAll(null).data(cells).join('rect')
  .attr('x', d => hx(d.m)).attr('y', d => hy(d.yr)).attr('width', hx.bandwidth() + 0.3).attr('height', hy.bandwidth() + 0.3)
  .attr('fill', d => heatColor(d.v));
svg.append('rect').attr('x', 40).attr('y', 888).attr('width', 262).attr('height', 95)
  .attr('fill', 'none').attr('stroke', '#000').attr('stroke-width', 0.8);
svg.append('text').attr('x', 171).attr('y', 882.5).attr('text-anchor', 'middle').attr('font-size', 12).text('Monthly Return Heat Map');
heatYears.forEach(yr => {
  const cy = hy(yr) + hy.bandwidth() / 2;
  svg.append('line').attr('x1', 36.5).attr('x2', 40).attr('y1', cy).attr('y2', cy).attr('stroke', '#000').attr('stroke-width', 0.8);
  svg.append('text').attr('x', 33.5).attr('y', cy).attr('dy', '0.35em').attr('text-anchor', 'end').attr('font-size', 10).text(yr);
});
monthNames.forEach(m => {
  const cx = hx(m) + hx.bandwidth() / 2;
  svg.append('line').attr('x1', cx).attr('x2', cx).attr('y1', 983).attr('y2', 986.5).attr('stroke', '#000').attr('stroke-width', 0.8);
  const t = svg.append('text').attr('text-anchor', 'middle').attr('dy', '0.35em').attr('font-size', 10).text(m);
  const w = t.node().getComputedTextLength();
  const half = (w + 10) * 0.3536;
  t.attr('transform', `translate(${cx - 2},${989 + half}) rotate(-45)`);
});

// colour bar
const grad = defs.append('linearGradient').attr('id', 'cbar').attr('x1', 0).attr('y1', 1).attr('x2', 0).attr('y2', 0);
d3.range(0, 1.0001, 0.05).forEach(t => grad.append('stop').attr('offset', t).attr('stop-color', d3.interpolateRdYlGn(t)));
const cb = d3.scaleLinear().domain(d3.extent(allMonthly)).range([1022.7, 849.3]);
svg.append('rect').attr('x', 319.3).attr('y', 849.3).attr('width', 9).attr('height', 173.4)
  .attr('fill', 'url(#cbar)').attr('stroke', '#000').attr('stroke-width', 0.8);
[-0.05, 0, 0.05, 0.10, 0.15].forEach(v => {
  svg.append('line').attr('x1', 328.3).attr('x2', 331.8).attr('y1', cb(v)).attr('y2', cb(v)).attr('stroke', '#000').attr('stroke-width', 0.8);
  svg.append('text').attr('x', 334.5).attr('y', cb(v)).attr('dy', '0.35em').attr('font-size', 10).text(minus(v.toFixed(2)));
});

// ---- yearly returns ----
const yrx = d3.scaleLinear().domain([-0.107, 0.479]).range([394.3, 524]);
const yry = d3.scaleBand().domain(heatYears).range([849.3, 1022.3]);
svg.append('rect').attr('x', 394.3).attr('y', 849.3).attr('width', 129.7).attr('height', 173).attr('fill', '#fff');
svg.selectAll(null).data(yearlyReturns).join('rect')
  .attr('x', d => yrx(Math.min(0, d))).attr('width', d => Math.abs(yrx(d) - yrx(0)))
  .attr('y', (d, i) => yry(heatYears[i])).attr('height', yry.bandwidth())
  .attr('fill', d => d < 0 ? '#ff2828' : '#269326');
svg.append('rect').attr('x', 394.3).attr('y', 849.3).attr('width', 129.7).attr('height', 173)
  .attr('fill', 'none').attr('stroke', '#000').attr('stroke-width', 0.8);
svg.append('text').attr('x', 459).attr('y', 844.5).attr('text-anchor', 'middle').attr('font-size', 12).text('Yearly Returns');
heatYears.forEach(yr => {
  const cy = yry(yr) + yry.bandwidth() / 2;
  svg.append('line').attr('x1', 390.8).attr('x2', 394.3).attr('y1', cy).attr('y2', cy).attr('stroke', '#000').attr('stroke-width', 0.8);
  svg.append('text').attr('x', 387.5).attr('y', cy).attr('dy', '0.35em').attr('text-anchor', 'end').attr('font-size', 10).text(yr);
});
[0, 0.2, 0.4].forEach(v => {
  svg.append('line').attr('x1', yrx(v)).attr('x2', yrx(v)).attr('y1', 1022.3).attr('y2', 1025.8).attr('stroke', '#000').attr('stroke-width', 0.8);
  svg.append('text').attr('x', yrx(v)).attr('y', 1037).attr('text-anchor', 'middle').attr('font-size', 10).text(v.toFixed(1));
});

// ---- monthly return histogram ----
const hsx = d3.scaleLinear().domain([-0.0621, 0.1956]).range([575.4, 826.3]);
const hsy = d3.scaleLinear().domain([0, 18.9]).range([1022.3, 849.3]);
const binW = (histRange[1] - histRange[0]) / histCounts.length;
svg.append('rect').attr('x', 575.4).attr('y', 849.3).attr('width', 250.9).attr('height', 173).attr('fill', '#fff');
svg.selectAll(null).data(histCounts).join('rect')
  .attr('x', (d, i) => hsx(histRange[0] + i * binW)).attr('width', hsx(binW) - hsx(0))
  .attr('y', d => hsy(d)).attr('height', d => hsy(0) - hsy(d))
  .attr('fill', '#1f77b4').attr('fill-opacity', 0.5);
svg.append('rect').attr('x', 575.4).attr('y', 849.3).attr('width', 250.9).attr('height', 173)
  .attr('fill', 'none').attr('stroke', '#000').attr('stroke-width', 0.8);
svg.append('text').attr('x', 701).attr('y', 844.5).attr('text-anchor', 'middle').attr('font-size', 12).text('Monthly Return Histo');
d3.range(0, 17.6, 2.5).forEach(v => {
  svg.append('line').attr('x1', 571.9).attr('x2', 575.4).attr('y1', hsy(v)).attr('y2', hsy(v)).attr('stroke', '#000').attr('stroke-width', 0.8);
  svg.append('text').attr('x', 568.5).attr('y', hsy(v)).attr('dy', '0.35em').attr('text-anchor', 'end').attr('font-size', 10).text(v.toFixed(1));
});
[-0.05, 0, 0.05, 0.10, 0.15].forEach(v => {
  svg.append('line').attr('x1', hsx(v)).attr('x2', hsx(v)).attr('y1', 1022.3).attr('y2', 1025.8).attr('stroke', '#000').attr('stroke-width', 0.8);
  svg.append('text').attr('x', hsx(v)).attr('y', 1037).attr('text-anchor', 'middle').attr('font-size', 10).text(minus(v.toFixed(2)));
});

// watermark (sits over the histogram's tick labels, as in the source image)
svg.append('text').attr('x', 640).attr('y', 1033).attr('font-size', 19)
  .style('font-family', '"Noto Sans CJK SC", "DejaVu Sans", sans-serif')
  .attr('fill', 'rgba(255,255,255,0.55)').attr('stroke', 'rgba(110,110,110,0.55)').attr('stroke-width', 0.8)
  .text('CSDN @QTEASY量化交易');
</script>
</body>
</html>
